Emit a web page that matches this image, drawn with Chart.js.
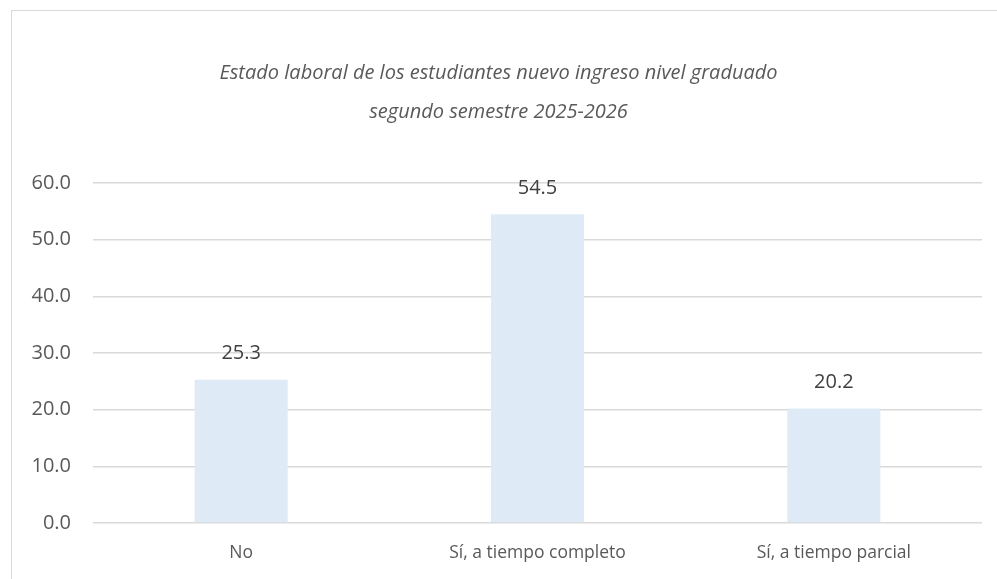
<!DOCTYPE html>
<html>
<head>
<meta charset="utf-8">
<script src="https://cdn.jsdelivr.net/npm/chart.js@4.4.0/dist/chart.umd.min.js"></script>
<style>
  html, body { margin: 0; padding: 0; background: #fff; }
  #wrap { position: relative; width: 997px; height: 579px; overflow: hidden; }
  #frame { position: absolute; left: 11px; top: 10px; width: 1000px; height: 600px;
           border-left: 1.5px solid #d9d9d9; border-top: 1.5px solid #d9d9d9; box-sizing: border-box; }
  #chart { position: absolute; left: 0; top: 0; }
</style>
</head>
<body>
<div id="wrap">
  <div id="frame"></div>
  <canvas id="chart" width="997" height="579"></canvas>
</div>
<script>
  // ===== DATA =====
  const CATEGORIES = ['No', 'Sí, a tiempo completo', 'Sí, a tiempo parcial'];
  const VALUES = [25.3, 54.5, 20.2];
  const TITLE_LINES = ['Estado laboral de los estudiantes nuevo ingreso nivel graduado', 'segundo semestre 2025-2026'];
  const Y_MIN = 0, Y_MAX = 60, Y_STEP = 10;

  const TEXT = '#595959';
  const FONT = "'Open Sans', sans-serif";

  // value labels above bars
  const valueLabels = {
    id: 'valueLabels',
    afterDatasetsDraw(chart) {
      const { ctx } = chart;
      const meta = chart.getDatasetMeta(0);
      ctx.save();
      ctx.font = `20px ${FONT}`;
      ctx.fillStyle = '#404040';
      ctx.textAlign = 'center';
      ctx.textBaseline = 'middle';
      meta.data.forEach((bar, i) => {
        ctx.fillText(VALUES[i].toFixed(1), bar.x, bar.y - 26);
      });
      ctx.restore();
    }
  };

  new Chart(document.getElementById('chart'), {
    type: 'bar',
    data: {
      labels: CATEGORIES,
      datasets: [{ data: VALUES, backgroundColor: '#deebf7', borderWidth: 0,
                   categoryPercentage: 1, barPercentage: 0.314 }]
    },
    options: {
      responsive: false, animation: false,
      layout: { padding: { left: 15, right: 15, top: 0, bottom: 0 } },
      plugins: {
        legend: { display: false },
        tooltip: { enabled: false },
        title: {
          display: true, text: TITLE_LINES, color: TEXT,
          font: { family: FONT, size: 20, style: 'italic', weight: 'normal', lineHeight: 1.95 },
          padding: { top: 54, bottom: 51 }
        }
      },
      scales: {
        y: {
          min: Y_MIN, max: Y_MAX,
          ticks: { stepSize: Y_STEP, color: TEXT, font: { family: FONT, size: 20 }, padding: 22,
                   callback: v => v.toFixed(1) },
          grid: { color: '#d9d9d9', lineWidth: 1.5, drawTicks: false },
          border: { display: false },
          afterFit(scale) { scale.width = 78; }
        },
        x: {
          ticks: { color: TEXT, font: { family: FONT, size: 17.5 }, padding: 20 },
          grid: { display: false, drawTicks: false },
          border: { display: false },
          afterFit(scale) { scale.height = 56; }
        }
      }
    },
    plugins: [valueLabels]
  });
</script>
</body>
</html>
